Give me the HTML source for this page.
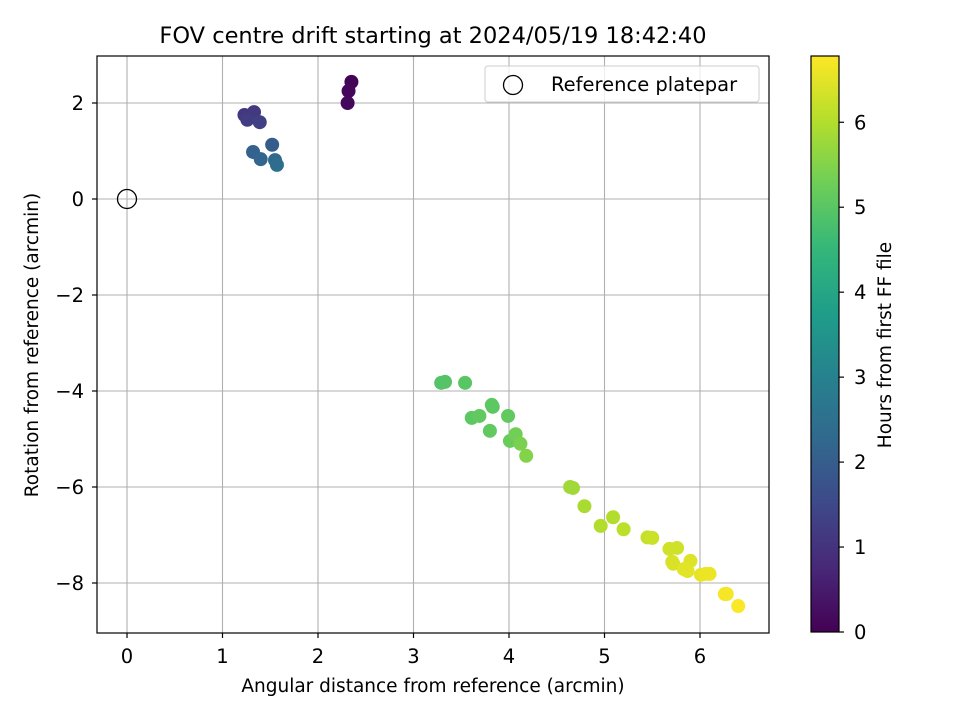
<!DOCTYPE html>
<html><head><meta charset="utf-8"><style>
body{margin:0;background:#fff;}
svg text{font-family:"DejaVu Sans","Liberation Sans",sans-serif;fill:#000;}
</style></head><body>
<svg id="c" width="960" height="720" xmlns="http://www.w3.org/2000/svg">
<defs>
<linearGradient id="vir" x1="0" y1="1" x2="0" y2="0">
<stop offset="0" stop-color="#440154"/><stop offset="0.111" stop-color="#482878"/><stop offset="0.222" stop-color="#3e4989"/><stop offset="0.333" stop-color="#31688e"/><stop offset="0.444" stop-color="#26828e"/><stop offset="0.556" stop-color="#1f9e89"/><stop offset="0.667" stop-color="#35b779"/><stop offset="0.778" stop-color="#6ece58"/><stop offset="0.889" stop-color="#b5de2b"/><stop offset="1" stop-color="#fde725"/>
</linearGradient>
</defs>
<text x="433" y="43" font-size="22.5" text-anchor="middle">FOV centre drift starting at 2024/05/19 18:42:40</text>
<g id="grid"></g>
<g id="pts"></g>
<rect x="97" y="56" width="672" height="577" fill="none" stroke="#000" stroke-width="1.2"/>
<g id="ticks"></g>
<text x="433" y="692" font-size="18.5" text-anchor="middle">Angular distance from reference (arcmin)</text>
<text transform="translate(38,345) rotate(-90)" font-size="18.5" text-anchor="middle">Rotation from reference (arcmin)</text>
<g>
<rect x="485" y="66" width="274" height="36" rx="3" fill="#fff" fill-opacity="0.8" stroke="#ccc"/>
<circle cx="513" cy="85" r="9.5" fill="none" stroke="#000" stroke-width="1.3"/>
<text x="551" y="91" font-size="19.5">Reference platepar</text>
</g>
<rect x="811" y="56" width="28" height="576" fill="url(#vir)" stroke="#000" stroke-width="1.2"/>
<g id="cbt"></g>
<text transform="translate(891,345) rotate(-90)" font-size="18.5" text-anchor="middle">Hours from first FF file</text>
</svg>
<script>
const xs=[2.35,2.32,2.31,1.23,1.33,1.26,1.39,1.52,1.32,1.40,1.55,1.57,3.29,3.33,3.54,3.82,3.83,3.61,3.69,3.99,3.80,4.01,4.07,4.12,4.18,4.64,4.67,4.79,4.96,5.09,5.20,5.45,5.50,5.68,5.76,5.71,5.72,5.90,5.83,5.87,6.01,6.06,6.10,6.26,6.28,6.40];
const ys=[2.44,2.25,2.0,1.75,1.81,1.65,1.6,1.13,0.98,0.83,0.81,0.71,-3.83,-3.81,-3.83,-4.29,-4.33,-4.56,-4.52,-4.52,-4.83,-5.04,-4.90,-5.1,-5.35,-6.0,-6.02,-6.4,-6.81,-6.63,-6.88,-7.05,-7.06,-7.29,-7.27,-7.56,-7.6,-7.54,-7.71,-7.75,-7.83,-7.81,-7.81,-8.23,-8.23,-8.48];
const hours=[0.05,0.1,0.15,1.1,1.15,1.2,1.3,2.0,2.1,2.2,2.3,2.4,4.9,4.95,5.0,5.05,5.05,5.05,5.1,5.1,5.1,5.2,5.3,5.4,5.5,5.8,5.8,5.9,6.0,6.0,6.1,6.2,6.25,6.3,6.3,6.35,6.4,6.45,6.5,6.5,6.55,6.6,6.6,6.7,6.7,6.75];
const xTicks=[0,1,2,3,4,5,6];
const yTicks=[2,0,-2,-4,-6,-8];
const cTicks=[0,1,2,3,4,5,6];
const X=v=>127+v*95.5, Y=v=>199-v*48;
const vmax=6.78, C=h=>632-h*576/vmax;
const vir=[[68,1,84],[72,40,120],[62,73,137],[49,104,142],[38,130,142],[31,158,137],[53,183,121],[110,206,88],[181,222,43],[253,231,37]];
function col(t){t=Math.max(0,Math.min(1,t))*(vir.length-1);const i=Math.min(Math.floor(t),vir.length-2),f=t-i;const a=vir[i],b=vir[i+1];return `rgb(${a.map((v,k)=>Math.round(v+(b[k]-v)*f)).join(',')})`;}
const NS='http://www.w3.org/2000/svg';
function mk(p,tag,at){const e=document.createElementNS(NS,tag);for(const k in at)e.setAttribute(k,at[k]);p.appendChild(e);return e;}
const g=document.getElementById('grid'),tk=document.getElementById('ticks'),pts=document.getElementById('pts'),cb=document.getElementById('cbt');
xTicks.forEach(v=>{const l=mk(g,'line',{x1:X(v),x2:X(v),y1:56,y2:633,stroke:'#b0b0b0','stroke-width':1.1});


const t=mk(tk,'line',{x1:X(v),x2:X(v),y1:633,y2:638,stroke:'#000','stroke-width':1.2});


const s=mk(tk,'text',{x:X(v),y:663,'font-size':19.5,'text-anchor':'middle'});s.textContent=v;

});
yTicks.forEach(v=>{const l=mk(g,'line',{x1:97,x2:769,y1:Y(v),y2:Y(v),stroke:'#b0b0b0','stroke-width':1.1});


const t=mk(tk,'line',{x1:92,x2:97,y1:Y(v),y2:Y(v),stroke:'#000','stroke-width':1.2});


const s=mk(tk,'text',{x:84,y:Y(v)+7,'font-size':19.5,'text-anchor':'end'});s.textContent=(v<0?'\u2212'+(-v):v);

});
xs.forEach((x,i)=>{const c=mk(pts,'circle',{cx:X(x),cy:Y(ys[i]),r:7,fill:col(hours[i]/vmax)});

});
const r=mk(pts,'circle',{cx:X(0),cy:Y(0),r:9.5,fill:'none',stroke:'#000','stroke-width':1.3});


cTicks.forEach(v=>{const t=mk(cb,'line',{x1:839,x2:844,y1:C(v),y2:C(v),stroke:'#000','stroke-width':1.2});


const s=mk(cb,'text',{x:854,y:C(v)+7,'font-size':19.5});s.textContent=v;

});
</script>
</body></html>
